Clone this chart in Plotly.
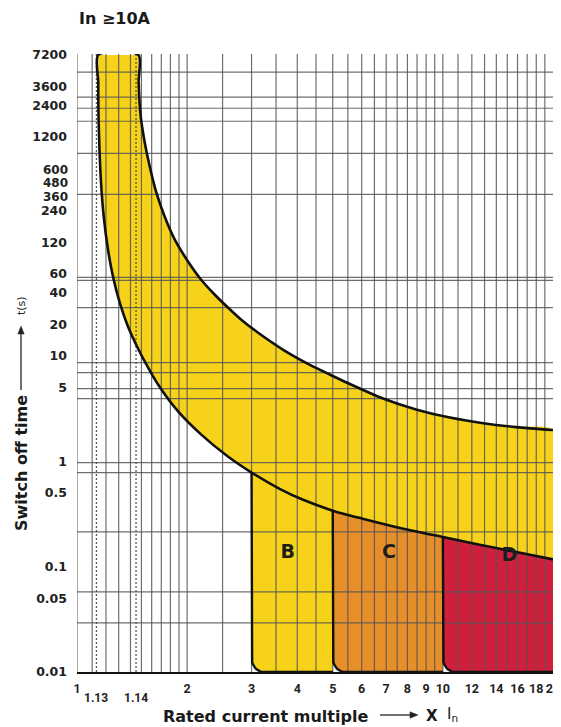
import math
import plotly.graph_objects as go

# ---------------- data ----------------
# lower boundary of the tripping band (x = multiple of In, t = seconds)
lower_x = [1.143, 1.143, 1.145, 1.152, 1.163, 1.183, 1.215, 1.254, 1.308, 1.378,
           1.468, 1.539, 1.664, 1.887, 2.186, 2.585, 3.0, 3.59, 4.15, 5.0,
           6.04, 7.48, 10.0, 12.6, 15.5, 20.0]
lower_t = [7200, 3970, 1885, 915, 445, 211, 103, 56.9, 32.2, 19.0,
           11.76, 8.60, 5.39, 2.99, 1.79, 1.11, 0.782, 0.545, 0.431, 0.340,
           0.285, 0.237, 0.191, 0.1615, 0.1398, 0.1173]

# upper boundary of the tripping band
upper_x = [1.472, 1.474, 1.493, 1.531, 1.580, 1.647, 1.736, 1.849, 2.011, 2.182,
           2.377, 2.585, 2.806, 3.12, 3.69, 4.37, 4.85, 5.57, 6.86, 8.49,
           10.45, 12.9, 15.9, 20.0]
upper_t = [7200, 3970, 1885, 1068, 631, 357, 211, 127.8, 78.9, 53.2,
           38.3, 28.8, 22.2, 16.7, 11.25, 8.10, 6.80, 5.41, 3.94, 3.09,
           2.60, 2.30, 2.11, 1.98]

zone_names = ["B", "C", "D"]
zone_start = [3, 5, 10]
zone_end = [5, 10, 20]
zone_colors = ["#F6D31A", "#E68F2A", "#CF1F3D"]
zone_label_x = [3.77, 7.12, 15.2]
zone_label_t = [0.135, 0.135, 0.126]

band_color = "#F6D31A"

y_tick_vals = [7200, 3600, 2400, 1200, 240, 120, 60, 40, 20, 10, 5,
               1, 0.5, 0.1, 0.05, 0.01]
y_tick_text = ["7200", "3600", "2400", "1200", "240", "120",
               "60", "40", "20", "10", "5", "1", "0.5", "0.1", "0.05", "0.01"]
# crowded tick labels, written as annotations so they can be spread slightly
y_crowded_vals = [600, 480, 360]
y_crowded_text = ["600", "480", "360"]
y_crowded_shift = [-1, -4, -5]   # px nudges

x_tick_vals = [1, 2, 3, 4, 5, 6, 7, 8, 9, 10, 12, 14, 16, 18, 20]
x_tick_text = ["1", "2", "3", "4", "5", "6", "7", "8", "9", "10", "12", "14", "16", "18", "20"]

x_special_vals = [1.13, 1.45]
x_special_text = ["1.13", "1.14"]

grid_x = [1, 1.1, 1.2, 1.3, 1.4, 1.5, 1.6, 1.7, 1.8, 1.9, 2, 2.5,
          3, 3.5, 4, 4.5, 5, 5.5, 6, 6.5, 7, 7.5, 8, 8.5, 9, 9.5,
          10, 11, 12, 13, 14, 15, 16, 17, 18, 19]
grid_y = [4940, 2860, 2245, 1690, 838, 342, 55.6, 52.1, 28.8, 8.63, 6.95, 4.90,
          3.94, 0.97, 0.779, 0.214, 0.0576, 0.0292]

X_MIN, X_MAX = 1, 20
T_MIN = 0.01
Y_RANGE_TOP = 3.866  # log10 of top of plot

# ---------------- style / layout ----------------
GRID_COLOR = "rgba(85,85,85,0.85)"
LINE_BLACK = "#111111"
CORNER_RX = 0.033   # rounded corner size in log units (style)
CORNER_RY = 0.135
TICK_FONT = dict(family="DejaVu Sans", size=12.5, color="#222", weight="bold")

OFF = 8                       # default page margin of the html body
W, H = 561 - OFF, 727 - OFF
ML, MR, MT, MB = 69, 8, 46, 55
PW, PH = W - ML - MR, H - MT - MB


def px_x(px):
    """page pixel x -> paper coordinate"""
    return (px - OFF - ML) / PW


def px_y(py):
    """page pixel y -> paper coordinate"""
    return (H - MB - (py - OFF)) / PH


def corner_points(x0):
    cx = math.log10(x0) + CORNER_RX
    cy = math.log10(T_MIN) + CORNER_RY
    xs, ys = [], []
    n = 10
    for k in range(n + 1):
        th = math.pi + k * (math.pi / 2) / n
        xs.append(10 ** (cx + CORNER_RX * math.cos(th)))
        ys.append(10 ** (cy + CORNER_RY * math.sin(th)))
    return xs, ys


def arrow_shapes(tail, head, color="#222", width=1.3, head_len=8, head_half=3.2):
    """arrow in page pixels -> list of paper-referenced shapes"""
    (tx, ty), (hx, hy) = tail, head
    L = math.hypot(hx - tx, hy - ty)
    ux, uy = (hx - tx) / L, (hy - ty) / L
    bx, by = hx - ux * head_len, hy - uy * head_len
    px_, py_ = -uy, ux
    p1 = (bx + px_ * head_half, by + py_ * head_half)
    p2 = (bx - px_ * head_half, by - py_ * head_half)
    line = dict(type="line", xref="paper", yref="paper",
                x0=px_x(tx), y0=px_y(ty), x1=px_x(bx), y1=px_y(by),
                line=dict(color=color, width=width))
    path = "M {:.5f},{:.5f} L {:.5f},{:.5f} L {:.5f},{:.5f} Z".format(
        px_x(hx), px_y(hy), px_x(p1[0]), px_y(p1[1]), px_x(p2[0]), px_y(p2[1]))
    tri = dict(type="path", xref="paper", yref="paper", path=path,
               fillcolor=color, line=dict(color=color, width=0.5))
    return [line, tri]


fig = go.Figure()

# yellow band
band_x = lower_x + upper_x[::-1]
band_y = lower_t + upper_t[::-1]
fig.add_trace(go.Scatter(x=band_x, y=band_y, mode="lines", fill="toself",
                         fillcolor=band_color, line=dict(width=0, shape="spline", smoothing=0.7),
                         hoverinfo="skip"))

# B / C / D zones
zone_outlines = []
for name, x0, x1, col in zip(zone_names, zone_start, zone_end, zone_colors):
    seg = [(x, t) for x, t in zip(lower_x, lower_t) if x0 <= x <= x1]
    cx, cy = corner_points(x0)
    xs = [seg[0][0]] + cx + [x1, seg[-1][0]] + [p[0] for p in seg[::-1]]
    ys = [seg[0][1]] + cy + [T_MIN, seg[-1][1]] + [p[1] for p in seg[::-1]]
    fig.add_trace(go.Scatter(x=xs, y=ys, mode="lines", fill="toself", fillcolor=col,
                             line=dict(width=0), hoverinfo="skip"))
    zone_outlines.append(([seg[0][0]] + cx + [x1], [seg[0][1]] + cy + [T_MIN]))

# grid lines drawn above fills
ytop = 10 ** Y_RANGE_TOP
gx, gy = [], []
for g in grid_x:
    gx += [g, g, None]
    gy += [T_MIN, ytop, None]
for g in grid_y:
    gx += [X_MIN, X_MAX, None]
    gy += [g, g, None]
fig.add_trace(go.Scatter(x=gx, y=gy, mode="lines", line=dict(color=GRID_COLOR, width=1.2),
                         hoverinfo="skip"))

# dashed reference lines
dx, dy = [], []
for g in x_special_vals:
    dx += [g, g, None]
    dy += [T_MIN, ytop, None]
fig.add_trace(go.Scatter(x=dx, y=dy, mode="lines",
                         line=dict(color="rgba(70,70,70,0.9)", width=1.3, dash="2px,2px"),
                         hoverinfo="skip"))

# band outline (smoothed)
fig.add_trace(go.Scatter(x=lower_x[::-1] + upper_x, y=lower_t[::-1] + upper_t, mode="lines",
                         line=dict(color=LINE_BLACK, width=2.6, shape="spline", smoothing=0.7),
                         hoverinfo="skip"))
# zone outlines
for ox, oy in zone_outlines:
    fig.add_trace(go.Scatter(x=ox, y=oy, mode="lines",
                             line=dict(color=LINE_BLACK, width=2.4), hoverinfo="skip"))

# zone letters
fig.add_trace(go.Scatter(x=zone_label_x, y=zone_label_t, mode="text", text=zone_names,
                         textfont=dict(family="DejaVu Sans", size=19, color="#1d1d1d",
                                       weight="bold"),
                         hoverinfo="skip"))

annotations = []
# title
annotations.append(dict(text="In ≥10A", xref="paper", yref="paper", x=px_x(77), y=px_y(18),
                        xanchor="left", yanchor="middle", showarrow=False,
                        font=dict(family="DejaVu Sans", size=16, color="#1a1a1a", weight="bold")))
# crowded y tick labels
for v, t, s in zip(y_crowded_vals, y_crowded_text, y_crowded_shift):
    annotations.append(dict(text=t, xref="paper", yref="y", x=0, y=math.log10(v),
                            xanchor="right", yanchor="middle", xshift=-8, yshift=s,
                            showarrow=False, borderpad=0,
                            font=dict(family="DejaVu Sans", size=12, color="#222", weight="bold")))
# special x labels
for v, t in zip(x_special_vals, x_special_text):
    annotations.append(dict(text=t, xref="x", yref="paper", x=math.log10(v), y=px_y(698),
                            xanchor="center", yanchor="middle", showarrow=False,
                            font=dict(family="Roboto", size=12, color="#222", weight="bold")))
# y title
annotations.append(dict(text="Switch off time", xref="paper", yref="paper",
                        x=px_x(21), y=px_y(463), textangle=-90, showarrow=False,
                        xanchor="center", yanchor="middle",
                        font=dict(family="DejaVu Sans", size=16, color="#1a1a1a", weight="bold")))
annotations.append(dict(text="t(s)", xref="paper", yref="paper",
                        x=px_x(21), y=px_y(306), textangle=-90, showarrow=False,
                        xanchor="center", yanchor="middle",
                        font=dict(family="DejaVu Sans", size=11, color="#222")))
# x title
annotations.append(dict(text="Rated current multiple", xref="paper", yref="paper",
                        x=px_x(265), y=px_y(716), showarrow=False,
                        xanchor="center", yanchor="middle",
                        font=dict(family="DejaVu Sans", size=16, color="#1a1a1a", weight="bold")))
annotations.append(dict(text="X", xref="paper", yref="paper", x=px_x(432), y=px_y(716),
                        showarrow=False, xanchor="center", yanchor="middle",
                        font=dict(family="DejaVu Sans", size=15, color="#1a1a1a", weight="bold")))
annotations.append(dict(text="I<sub>n</sub>", xref="paper", yref="paper", x=px_x(452), y=px_y(714),
                        showarrow=False, xanchor="center", yanchor="middle",
                        font=dict(family="DejaVu Sans", size=15, color="#1a1a1a")))

shapes = arrow_shapes((21, 390), (21, 326)) + arrow_shapes((380, 715), (418, 715))

fig.update_layout(
    width=W, height=H,
    margin=dict(l=ML, r=MR, t=MT, b=MB),
    paper_bgcolor="white", plot_bgcolor="white",
    showlegend=False, hovermode=False,
    annotations=annotations,
    shapes=shapes,
    xaxis=dict(type="log", range=[math.log10(X_MIN), math.log10(X_MAX)],
               tickvals=x_tick_vals, ticktext=x_tick_text, tickangle=0,
               showgrid=False, zeroline=False, showline=True, linecolor="#111",
               linewidth=2.2, ticks="", ticklabelstandoff=4, automargin=False,
               tickfont=dict(family="Roboto", size=12.5, color="#222", weight="bold"),
               fixedrange=True),
    yaxis=dict(type="log", range=[math.log10(T_MIN), Y_RANGE_TOP],
               tickvals=y_tick_vals, ticktext=y_tick_text,
               showgrid=False, zeroline=False, showline=False, ticks="",
               ticklabelstandoff=9, automargin=False,
               tickfont=TICK_FONT, fixedrange=True),
)

fig.write_html("out.html")
